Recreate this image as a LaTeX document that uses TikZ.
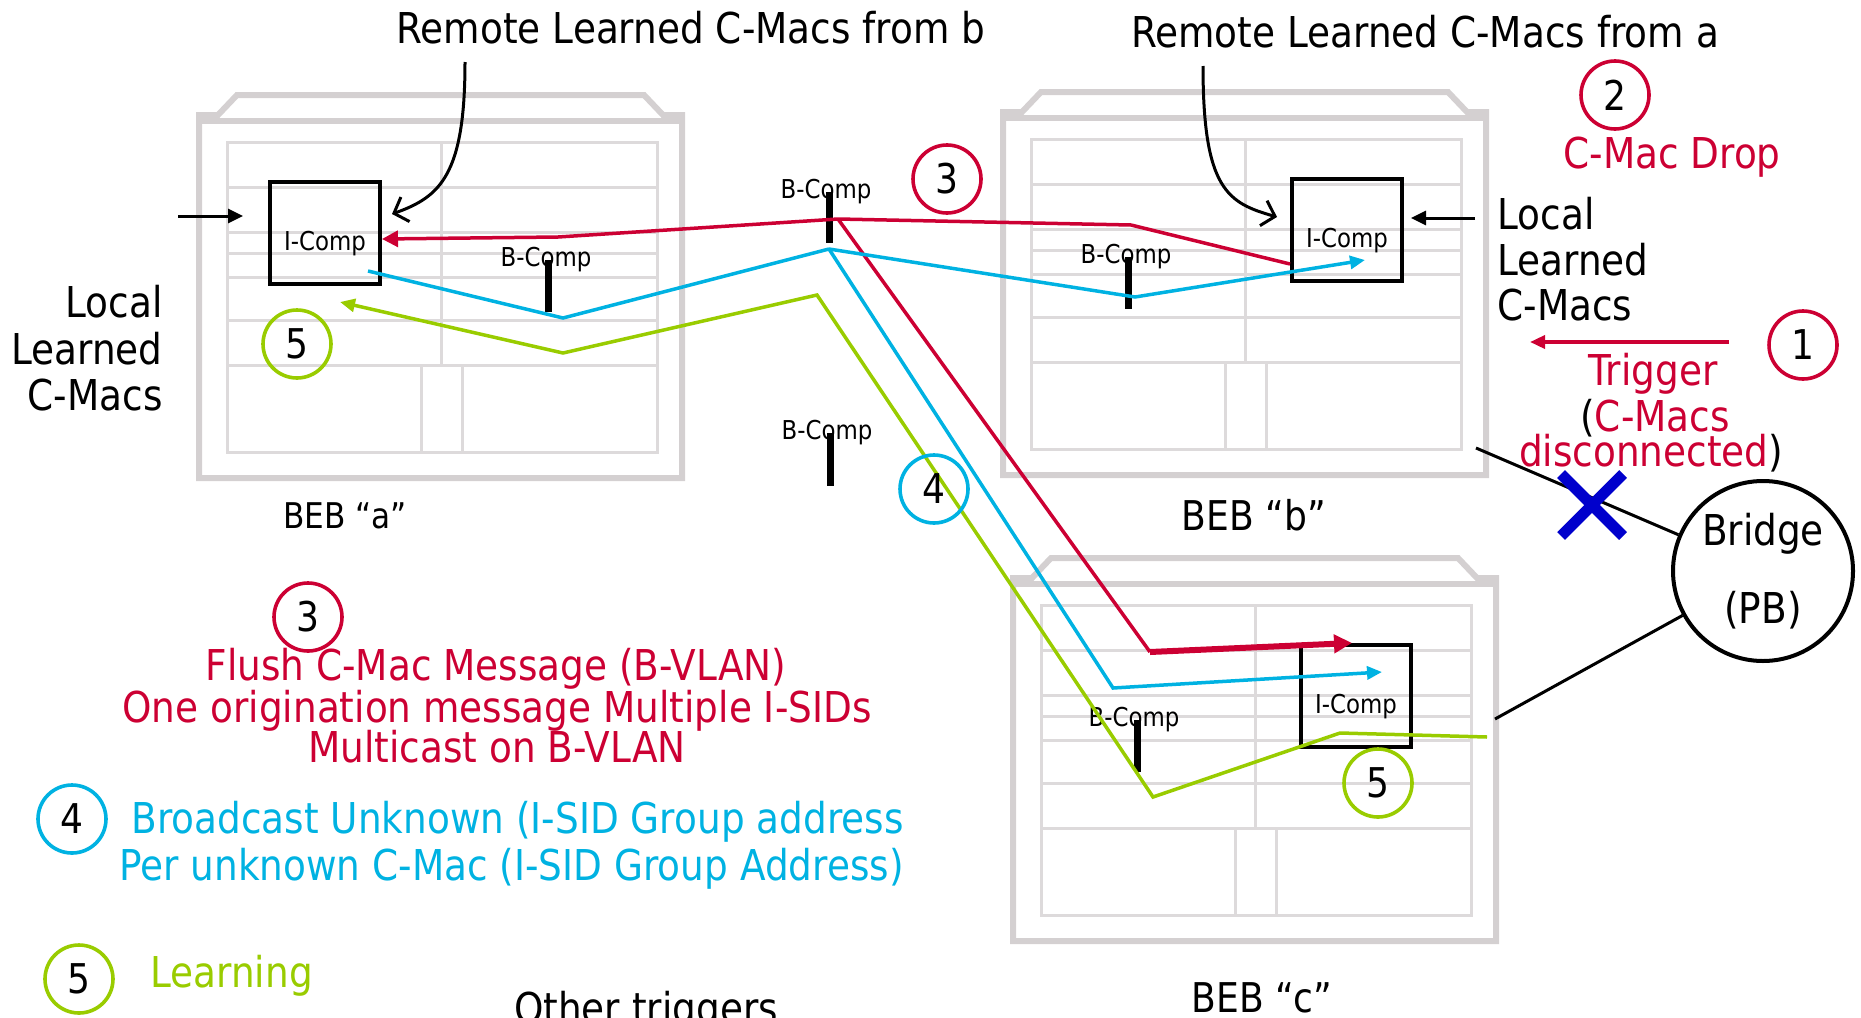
\documentclass[tikz,border=0pt]{standalone}
\usepackage{fontspec}
\setmainfont{DejaVu Sans}[FakeStretch=0.88]
\usepackage{xcolor}
\usepackage{tikz}
\usetikzlibrary{positioning, arrows.meta}

\definecolor{flushred}{RGB}{204,0,51}
\definecolor{bcastcyan}{RGB}{0,178,226}
\definecolor{learngreen}{RGB}{153,204,0}
\definecolor{cutblue}{RGB}{0,0,204}
\definecolor{framegray}{RGB}{212,208,209}
\definecolor{panelgray}{RGB}{221,218,219}

% one BEB chassis, top left corner at (#1,#2)
\newcommand{\bebbox}[2]{%
  \begin{scope}[shift={(#1,#2)}]
    \draw[bebframe] (0,383) -- (0,20) -- (19,20) -- (38,0) -- (445,0) -- (464,20) -- (483,20) -- (483,383) -- cycle;
    \draw[bebframe] (0,26) -- (483,26);
    \draw[bebpanel] (28,47) rectangle (458,357);
    \foreach \y in {92,137,158,182,225,270}
      \draw[bebpanel] (28,\y) -- (458,\y);
    \draw[bebpanel] (242,47) -- (242,270);
    \draw[bebpanel] (222,270) -- (222,357);
    \draw[bebpanel] (263,270) -- (263,357);
  \end{scope}}

\begin{document}
\begin{tikzpicture}[x=0.5pt,y=-0.5pt]
			\tikzstyle{bebframe}=[draw=framegray,line width=3pt]
			\tikzstyle{bebpanel}=[draw=panelgray,line width=1.5pt]
			\tikzstyle{comp}=[draw=black,line width=2pt,minimum width=55pt,minimum height=51pt,inner sep=0pt,text height=20pt,text depth=3pt,font=\fontsize{13}{15}\selectfont]
			\tikzstyle{bcomp}=[inner sep=0pt,font=\fontsize{13}{15}\selectfont]
			\tikzstyle{bcbar}=[line width=3.5pt]
			\tikzstyle{txt}=[inner sep=0pt,anchor=base,font=\fontsize{21.25}{23}\selectfont]
			\tikzstyle{num}=[circle,draw,line width=1.8pt,minimum size=34pt,inner sep=0pt,font=\fontsize{20.5}{22}\selectfont]
			\tikzstyle{flushline}=[draw=flushred,line width=1.75pt]
			\tikzstyle{bcastline}=[draw=bcastcyan,line width=1.75pt]
			\tikzstyle{learnline}=[draw=learngreen,line width=1.75pt]
			\tikzstyle{remotearr}=[line width=1.5pt,-{Straight Barb[length=6pt,width=13pt]}]
			\tikzstyle{localarr}=[line width=1.5pt,-{Triangle[length=7.5pt,width=7pt]}]
			\tikzstyle{linkline}=[line width=1.5pt]
			\tikzstyle{cutmark}=[draw=cutblue,line width=5.5pt]

			\useasboundingbox (0,0) rectangle (1861,1017);

			\bebbox{199}{95}
			\bebbox{1003}{92}
			\bebbox{1013}{558}

			% components
			\node[comp](Ia) at (325,233) {I-Comp};
			\node[comp](Ib) at (1347,230) {I-Comp};
			\node[comp](Ic) at (1356,696) {I-Comp};
			\node[bcomp](Ba) at (546,260) {B-Comp};
			\node[bcomp](Bb) at (1126,257) {B-Comp};
			\node[bcomp](Bc) at (1134,720) {B-Comp};
			\node[bcomp](Bt) at (826,192) {B-Comp};
			\node[bcomp](Bl) at (827,433) {B-Comp};
			\draw[bcbar] ([xshift=1pt]Ba.center) -- ++(0,52);
			\draw[bcbar] ([xshift=1pt]Bb.center) -- ++(0,52);
			\draw[bcbar] ([xshift=1.5pt]Bc.center) -- ++(0,52);
			\draw[bcbar] ([xshift=1.5pt]Bt.center) -- ++(0,51);
			\draw[bcbar] ([xshift=1.5pt]Bl.center) -- ++(0,53);

			% flush (red)
			\coordinate (rj) at (838,219);
			\coordinate (ra) at (558,237);
			\coordinate (rb) at (1131,225);
			\coordinate (rc) at (1150,652);
			\draw[flushline,-{Triangle[length=8pt,width=8pt]}] (rj) -- (ra) -- ([yshift=-3pt]Ia.east);
			\draw[flushline] (rj) -- (rb) -- ([yshift=-17pt]Ib.west);
			\draw[flushline] (rj) -- (rc);
			\draw[flushline,line width=3pt,-{Triangle[length=9pt,width=9pt]}] (rc) -- ([xshift=-2pt]Ic.north);

			% broadcast (cyan)
			\coordinate (ca) at (368,271);
			\coordinate (c1) at (563,318);
			\coordinate (cj) at (829,249);
			\coordinate (c2) at (1135,297);
			\coordinate (cb) at (1365,260);
			\coordinate (c3) at (1113,688);
			\coordinate (cc) at (1382,672);
			\draw[bcastline] (ca) -- (c1) -- (cj);
			\draw[bcastline,-{Triangle[length=7.5pt,width=6.5pt]}] (cj) -- (c2) -- (cb);
			\draw[bcastline,-{Triangle[length=7.5pt,width=6.5pt]}] (cj) -- (c3) -- (cc);

			% learning (green)
			\coordinate (ga) at (340,302);
			\coordinate (g1) at (563,353);
			\coordinate (gj) at (817,295);
			\coordinate (g2) at (1153,797);
			\coordinate (g3) at (1340,733);
			\coordinate (gc) at (1487,737);
			\draw[learnline,-{Triangle[length=7.5pt,width=6.5pt]}] (gc) -- (g3) -- (g2) -- (gj) -- (g1) -- (ga);

			% labels on top
			\node[txt](lblb) at (691,43) {Remote Learned C-Macs from b};
			\node[txt](lbla) at (1425,47) {Remote Learned C-Macs from a};
			\coordinate (tb) at (465,62);
			\coordinate (ta) at (1203,66);
			\draw[remotearr] (tb) .. controls (465,175) and (440,197) .. ([xshift=5pt,yshift=9.5pt]Ia.east);
			\draw[remotearr] (ta) .. controls (1203,190) and (1228,203) .. ([xshift=-6.5pt,yshift=6.5pt]Ib.west);

			% local learned
			\coordinate (la) at (178,216);
			\coordinate (lb) at (1475,218);
			\draw[localarr] (la) -- ([xshift=-12.5pt,yshift=8.5pt]Ia.west);
			\draw[localarr] (lb) -- ([xshift=3.5pt,yshift=6pt]Ib.east);
			\node[txt,anchor=base east] at (163,317) {Local};
			\node[txt,anchor=base east] at (163,364) {Learned};
			\node[txt,anchor=base east] at (163,410) {C-Macs};
			\node[txt,anchor=base west] at (1497,229) {Local};
			\node[txt,anchor=base west] at (1497,275) {Learned};
			\node[txt,anchor=base west] at (1497,320) {C-Macs};

			% trigger and drop
			\node[num,draw=flushred](n2) at (1615,95) {2};
			\node[txt,text=flushred] at (1672,168) {C-Mac Drop};
			\node[num,draw=flushred](n1) at (1803,345) {1};
			\coordinate (t1) at (1729,342);
			\coordinate (t0) at (1530,342);
			\draw[flushline,-{Triangle[length=7.5pt,width=6.5pt]}] (t1) -- (t0);
			\node[txt,text=flushred] at (1653,385) {Trigger};
			\node[txt] at (1655,431) {(\textcolor{flushred}{C-Macs}};
			\node[txt] at (1651,466) {\textcolor{flushred}{disconnected})};

			% bridge
			\node[circle,draw,line width=2pt,minimum size=90pt,inner sep=0pt,align=center,font=\fontsize{21.25}{23}\selectfont](bridge) at (1763,571) {Bridge\\[16pt](PB)};
			\coordinate (bx) at (1476,448);
			\coordinate (cx) at (1495,719);
			\draw[linkline] (bx) -- (bridge);
			\draw[linkline] (cx) -- (bridge);
			\draw[cutmark] (1561,474) -- (1623,536);
			\draw[cutmark] (1561,536) -- (1623,474);

			% step numbers on the flows
			\node[num,draw=flushred](n3) at (947,179) {3};
			\node[num,draw=bcastcyan](n4) at (934,489) {4};
			\node[num,draw=learngreen](n5a) at (297,344) {5};
			\node[num,draw=learngreen](n5c) at (1378,783) {5};

			% BEB names
			\node[txt,font=\fontsize{17.7}{20}\selectfont] at (345,528) {BEB “a”};
			\node[txt,font=\fontsize{20.5}{22}\selectfont] at (1254,530) {BEB “b”};
			\node[txt,font=\fontsize{20.5}{22}\selectfont] at (1262,1012) {BEB “c”};

			% legend
			\node[num,draw=flushred](k3) at (308,617) {3};
			\node[txt,text=flushred] at (496,680) {Flush C-Mac Message (B-VLAN)};
			\node[txt,text=flushred] at (497,722) {One origination message Multiple I-SIDs};
			\node[txt,text=flushred] at (497,762) {Multicast on B-VLAN};
			\node[num,draw=bcastcyan](k4) at (72,819) {4};
			\node[txt,text=bcastcyan,anchor=base east] at (904,833) {Broadcast Unknown (I-SID Group address};
			\node[txt,text=bcastcyan,anchor=base east] at (904,880) {Per unknown C-Mac (I-SID Group Address)};
			\node[num,draw=learngreen](k5) at (79,979) {5};
			\node[txt,text=learngreen,anchor=base west] at (150,987) {Learning};
			\node[txt] at (646,1023) {Other triggers};
		\end{tikzpicture}
\end{document}
